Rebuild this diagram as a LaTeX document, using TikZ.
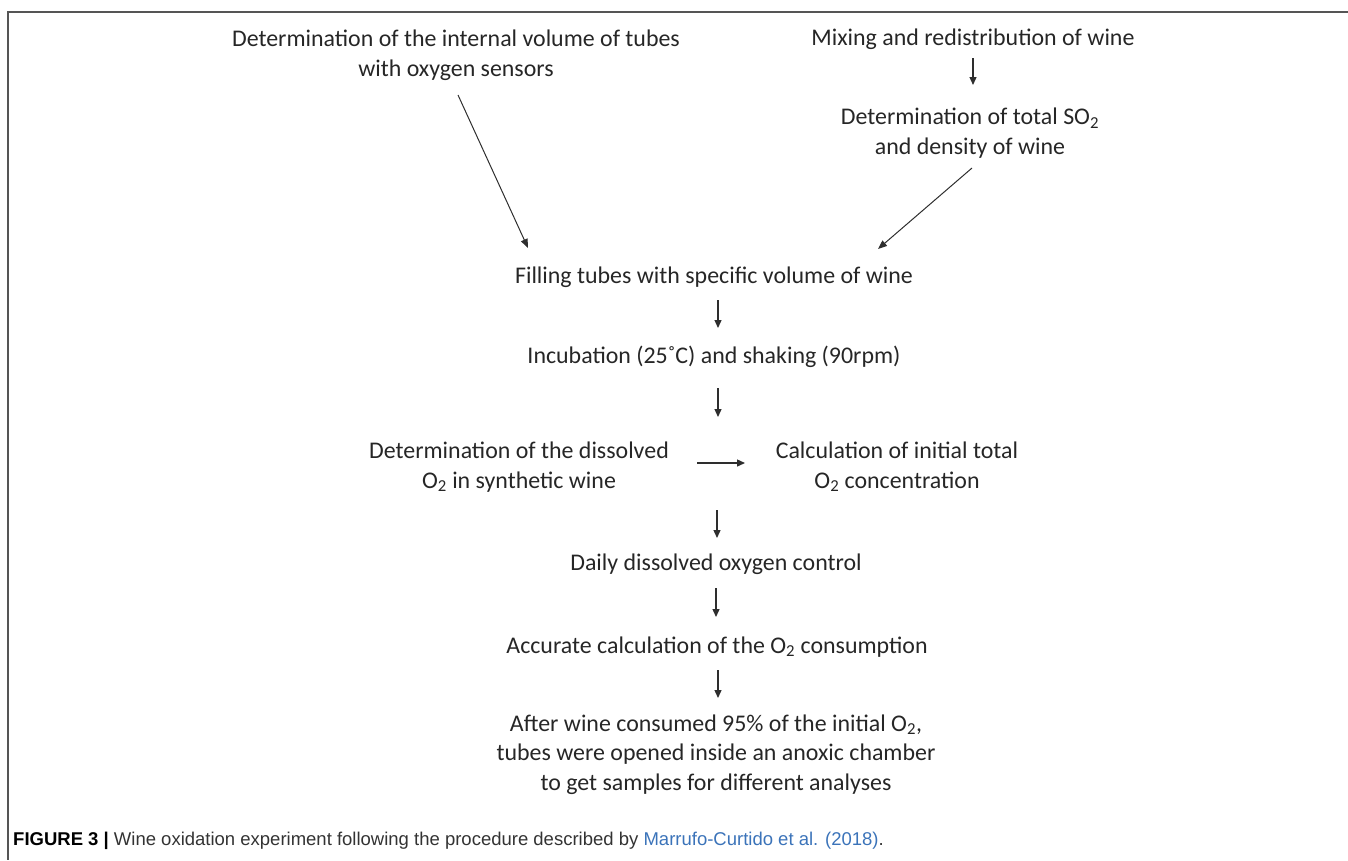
\documentclass[tikz,border=0pt]{standalone}
\usepackage{fontspec}
\setmainfont{Carlito}
\newfontfamily\capfont{Liberation Sans}
\usetikzlibrary{calc,arrows.meta}
\definecolor{txt}{HTML}{262626}
\definecolor{arrcol}{HTML}{2E2E2E}
\definecolor{framecol}{HTML}{555555}
\definecolor{captxt}{HTML}{333333}
\definecolor{linkcol}{HTML}{3B73B9}
\begin{document}
\begin{tikzpicture}[x=1pt,y=-1pt,
  lbl/.style={inner sep=0pt, anchor=base, align=center, text=txt, font=\fontsize{23.9}{29.5}\selectfont},
  arr/.style={draw=arrcol, line width=1.3pt, -{Triangle[length=8pt,width=7pt]}},
  diag/.style={draw=arrcol, line width=1pt, -{Triangle[length=9pt,width=7pt]}},
  framestyle/.style={draw=framecol, line width=1.3pt}
]
\useasboundingbox (0,0) rectangle (1348,860);
\coordinate (ftop) at (1348,12);
\coordinate (fcorner) at (8,12);
\coordinate (fbottom) at (8,860);
\draw[framestyle] (ftop) -- (fcorner) -- (fbottom);

% base anchor = baseline of the last line
\node[lbl] (A) at (456,76) {Determination of the internal volume of tubes\\with oxygen sensors};
\node[lbl] (B) at (973,45) {Mixing and redistribution of wine};
\node[lbl] (C) at (970,154) {Determination of total SO\textsubscript{2}\\and density of wine};
\node[lbl] (D) at (714,283) {Filling tubes with specific volume of wine};
\node[lbl] (E) at (714,363) {Incubation (25˚C) and shaking (90rpm)};
\node[lbl] (F) at (519,488) {Determination of the dissolved\\O\textsubscript{2} in synthetic wine};
\node[lbl] (G) at (897,488) {Calculation of initial total\\O\textsubscript{2} concentration};
\node[lbl] (H) at (716,570) {Daily dissolved oxygen control};
\node[lbl] (I) at (717,653) {Accurate calculation of the O\textsubscript{2} consumption};
\node[lbl] (J) at (716,790) {After wine consumed 95\% of the initial O\textsubscript{2},\\tubes were opened inside an anoxic chamber\\to get samples for different analyses};

\node[anchor=base west, inner sep=0pt, text=captxt, font=\capfont\fontsize{18.5}{22}\selectfont] (cap) at (13,845)
  {\textcolor{black}{\textbf{FIGURE 3 |}} Wine oxidation experiment following the procedure described by \textcolor{linkcol}{Marrufo-Curtido et al. (2018)}.};

\draw[arr] ($(B.base)+(0,13)$) -- ($(C.base)+(3,-69)$);
\draw[diag] ($(A.base)+(2,19)$) -- ($(D.base)+(-186,-35)$);
\draw[diag] ($(C.base)+(2,14)$) -- ($(D.base)+(164,-34)$);
\draw[arr] ($(D.base)+(4,17)$) -- ($(E.base)+(4,-35)$);
\coordinate (mid1) at ($(E.base)+(4,54)$);
\draw[arr] ($(E.base)+(4,25)$) -- (mid1);
\draw[arr] ($(F.base)+(178,-25)$) -- ($(G.base)+(-152,-25)$);
\coordinate (mid2) at ($(H.base)+(1,-60)$);
\draw[arr] (mid2) -- ($(H.base)+(1,-32)$);
\draw[arr] ($(H.base)+(0,18)$) -- ($(I.base)+(-1,-36)$);
\draw[arr] ($(I.base)+(1,17)$) -- ($(J.base)+(2,-92)$);
\end{tikzpicture}
\end{document}
